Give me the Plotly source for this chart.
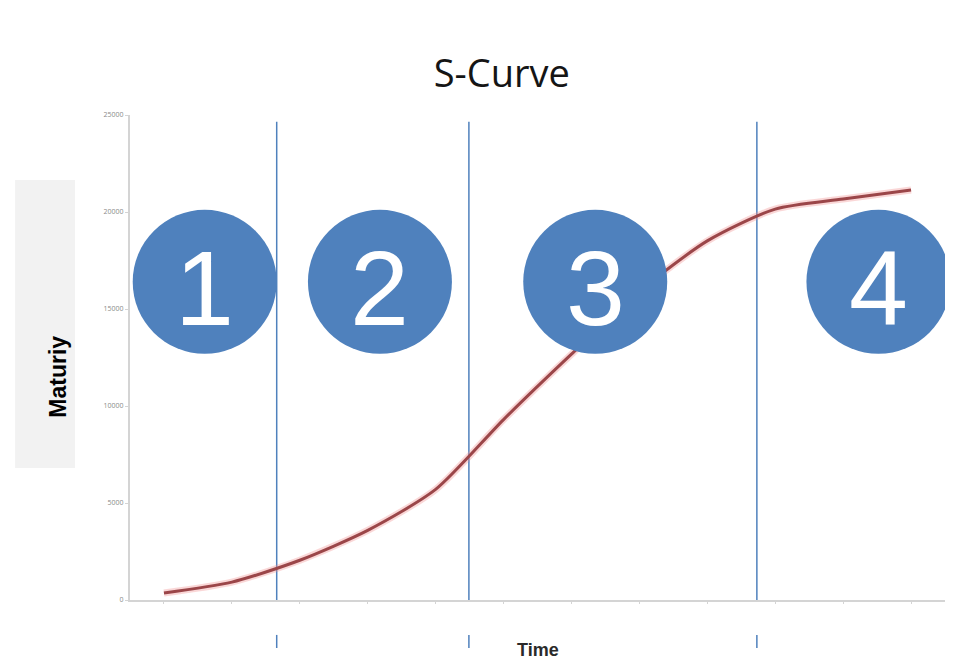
import plotly.graph_objects as go

# time steps and maturity values
periods = list(range(1, 13))
maturity = [360, 920, 2050, 3590, 5700, 9300, 12670, 15900, 18510, 20150, 20670, 21130]

# phase boundaries (in period units) and the numbered phase markers
phase_bounds = [2.66, 5.49, 9.73]
phase_x = [1.60, 4.18, 7.35, 11.52]
phase_y = [16400, 16400, 16400, 16400]
phase_labels = ['1', '2', '3', '4']

y_ticks = [0, 5000, 10000, 15000, 20000, 25000]

blue = '#4F81BD'

fig = go.Figure()

# soft halo under the curve
fig.add_trace(go.Scatter(
    x=periods, y=maturity, mode='lines',
    line=dict(color='rgba(240,140,140,0.35)', width=7, shape='spline', smoothing=0.7),
    hoverinfo='skip', showlegend=False))
fig.add_trace(go.Scatter(
    x=periods, y=maturity, mode='lines',
    line=dict(color='#9B4649', width=3, shape='spline', smoothing=0.7),
    showlegend=False))

# numbered circles
fig.add_trace(go.Scatter(
    x=phase_x, y=phase_y, mode='markers',
    marker=dict(size=144, color=blue, line=dict(width=0)),
    showlegend=False))

annotations = []
for px_, py_, lab in zip(phase_x, phase_y, phase_labels):
    annotations.append(dict(text=lab, x=px_, y=py_, xref='x', yref='y', showarrow=False,
                            yshift=-6, font=dict(family='Liberation Sans, Arial', size=106, color='white')))

annotations += [
    dict(text='<b>Maturiy</b>', textangle=-90, xref='paper', yref='paper',
         x=-0.107, y=0.46, showarrow=False,
         font=dict(family='Liberation Sans, Arial', size=23, color='black')),
    dict(text='<b>Time</b>', xref='paper', yref='paper', x=0.5, y=-0.103,
         yanchor='middle', showarrow=False,
         font=dict(family='Liberation Sans, Arial', size=18, color='#2A2A2A')),
]

shapes = []
for b in phase_bounds:
    shapes.append(dict(type='line', xref='x', yref='paper', x0=b, x1=b, y0=0, y1=0.986,
                       line=dict(color=blue, width=1.5), layer='below'))
    shapes.append(dict(type='line', xref='x', yref='paper', x0=b, x1=b, y0=-0.072, y1=-0.099,
                       line=dict(color=blue, width=1.5)))
# grey box behind the y label
shapes.append(dict(type='rect', xref='paper', yref='paper', x0=-0.141, x1=-0.0675, y0=0.272, y1=0.866,
                   fillcolor='#F2F2F2', line=dict(width=0), layer='below'))

fig.update_layout(
    width=955, height=653,
    margin=dict(l=122, r=18, t=107, b=61),
    paper_bgcolor='white', plot_bgcolor='white',
    title=dict(text='S-Curve', x=0.517, xref='container', xanchor='center',
               y=0.899, yref='container', yanchor='middle',
               font=dict(family='Open Sans', size=38, color='#151515')),
    shapes=shapes,
    annotations=annotations,
)

fig.update_xaxes(range=[0.5, 12.5], showgrid=False, zeroline=False,
                 showline=True, linecolor='#D4D4D4', linewidth=2,
                 ticks='outside', ticklen=2, tickcolor='#D4D4D4',
                 showticklabels=False, tickmode='array', tickvals=periods)
fig.update_yaxes(range=[0, 25000], showgrid=False, zeroline=False,
                 showline=True, linecolor='#D4D4D4', linewidth=2,
                 ticks='outside', ticklen=3, tickcolor='#D4D4D4',
                 tickvals=y_ticks, tickformat='d', tickfont=dict(size=7, color='#8A8A8A'))

fig.write_html("out.html")
